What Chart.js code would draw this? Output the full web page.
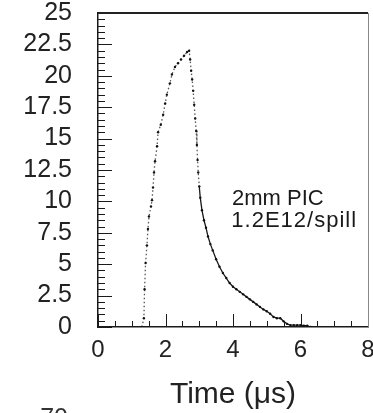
<!DOCTYPE html>
<html><head><meta charset="utf-8">
<script src="https://cdn.jsdelivr.net/npm/chart.js@4.4.0/dist/chart.umd.min.js"></script>
<style>html,body{margin:0;padding:0;background:#fff;}#wrap{width:373px;height:413px;position:relative;}</style>
</head><body><div id="wrap"><canvas id="c"></canvas></div>
<script>
// ---- data ----
const timeUs = [1.30,1.36,1.38,1.41,1.45,1.48,1.51,1.57,1.60,1.63,1.66,1.69,1.75,1.78,1.86,1.93,1.99,2.04,2.13,2.19,2.28,2.37,2.46,2.55,2.64,2.70,
  2.73,2.76,2.79,2.82,2.85,2.88,2.91,2.93,2.95,2.97,3.00,3.03,3.08,3.14,3.20,3.26,3.33,3.40,3.50,3.60,3.70,3.80,3.90,4.00,
  4.10,4.20,4.30,4.40,4.50,4.60,4.70,4.80,4.90,5.00,5.10,5.20,5.30,5.40,5.50,5.60,5.70,5.80,5.90,6.00,6.10,6.20,6.30];
const signal = [0,0.7,3.0,5.1,6.5,7.8,8.8,9.6,10.1,11.1,12.3,13.2,14.4,15.5,16.1,16.9,17.8,18.5,19.4,20.1,20.7,21.0,21.3,21.6,21.9,22.0,
  21.3,20.4,19.7,18.8,17.7,16.6,15.6,14.5,13.3,12.3,11.2,10.3,9.3,8.5,7.9,7.2,6.6,6.1,5.4,4.8,4.3,3.9,3.5,3.2,
  3.0,2.8,2.6,2.4,2.2,2.0,1.8,1.6,1.4,1.25,1.05,0.8,0.7,0.7,0.45,0.25,0.15,0.15,0.15,0.15,0.1,0.1,0];
const xTickValues = [0,2,4,6,8];
const xTickLabels = ['0','2','4','6','8'];
const yTickValues = [0,2.5,5,7.5,10,12.5,15,17.5,20,22.5,25];
const yTickLabels = ['0','2.5','5','7.5','10','12.5','15','17.5','20','22.5','25'];
const xTitle = 'Time (\u03BCs)';
const noteLines = ['2mm PIC','1.2E12/spill'];
const noteX = [3.97, 3.95];
const noteY = [9.7, 7.95];
const clippedLabel = '70';

const FONT = '"Liberation Sans", Arial, sans-serif';

const points = timeUs.map((t,i)=>({x:t, y:signal[i]}));

const decor = {
  id:'decor',
  afterDraw(chart){
    const {ctx, chartArea:a, scales:{x,y}} = chart;
    ctx.save();
    ctx.strokeStyle = '#1a1a1a';
    ctx.lineWidth = 1;
    for (let k = 0; k <= 50; k++){
      const v = k*0.5;
      const py = Math.round(y.getPixelForValue(v))+0.5;
      const len = (k%5===0) ? 14 : 7;
      ctx.beginPath(); ctx.moveTo(a.left, py); ctx.lineTo(a.left+len, py); ctx.stroke();
    }
    for (let k = 0; k <= 16; k++){
      const v = k*0.5;
      const px = Math.round(x.getPixelForValue(v))+0.5;
      const len = (k%4===0) ? 13 : 6;
      ctx.beginPath(); ctx.moveTo(px, a.bottom); ctx.lineTo(px, a.bottom-len); ctx.stroke();
    }
    ctx.lineWidth = 2;
    ctx.strokeStyle = '#222';
    ctx.beginPath(); ctx.moveTo(a.left, a.top); ctx.lineTo(a.right, a.top); ctx.stroke();
    ctx.lineWidth = 1;
    ctx.strokeStyle = '#888';
    ctx.beginPath(); ctx.moveTo(a.right+0.5, a.top); ctx.lineTo(a.right+0.5, a.bottom); ctx.stroke();
    ctx.fillStyle = '#1a1a1a';
    ctx.font = '22px ' + FONT;
    ctx.textBaseline = 'alphabetic';
    ctx.textAlign = 'left';
    noteLines.forEach((s,i)=>{
      ctx.letterSpacing = i === 1 ? '1px' : '0px';
      ctx.fillText(s, x.getPixelForValue(noteX[i]), y.getPixelForValue(noteY[i]));
    });
    ctx.letterSpacing = '0px';
    ctx.font = '25px ' + FONT;
    ctx.textAlign = 'right';
    ctx.fillStyle = '#333';
    ctx.fillText(clippedLabel, 68, 426);
    ctx.restore();
  }
};

new Chart(document.getElementById('c'), {
  type:'scatter',
  data:{datasets:[{
    data: points,
    showLine: true,
    borderColor:'#1a1a1a',
    borderWidth:1.3,
    pointRadius:1.2,
    pointBackgroundColor:'#111',
    pointBorderWidth:0,
    segment:{
      borderDash: c => (c.p0.parsed.x < 3.0 ? [1.5,2.5] : undefined),
      borderColor: c => (c.p0.parsed.x < 3.0 ? '#555' : undefined)
    }
  }]},
  options:{
    responsive:true, maintainAspectRatio:false, animation:false,
    layout:{padding:{left:0,top:13,right:5,bottom:0}},
    plugins:{legend:{display:false}, tooltip:{enabled:false}},
    scales:{
      x:{
        type:'linear', min:0, max:8,
        grid:{display:false},
        border:{display:true, color:'#1a1a1a', width:1.5},
        afterBuildTicks: s => { s.ticks = xTickValues.map(v=>({value:v})); },
        ticks:{padding:1, autoSkip:false, maxRotation:0, color:'#222', font:{family:FONT, size:24},
          callback:(v)=>{const i=xTickValues.indexOf(v); return i>=0?xTickLabels[i]:'';}},
        title:{display:true, text:xTitle, color:'#222', font:{family:FONT, size:30}, padding:{top:0,bottom:0}},
        afterFit: s => { s.height = 86; s.paddingLeft = 0; s.paddingRight = 0; }
      },
      y:{
        type:'linear', min:0, max:25,
        grid:{display:false},
        border:{display:true, color:'#1a1a1a', width:1.5},
        afterBuildTicks: s => { s.ticks = yTickValues.map(v=>({value:v})); },
        ticks:{padding:18, autoSkip:false, color:'#222', font:{family:FONT, size:25},
          callback:(v)=>{const i=yTickValues.indexOf(v); return i>=0?yTickLabels[i]:'';}},
        afterFit: s => { s.width = 98; s.paddingTop = 0; s.paddingBottom = 0; }
      }
    }
  },
  plugins:[decor]
});
</script></body></html>
